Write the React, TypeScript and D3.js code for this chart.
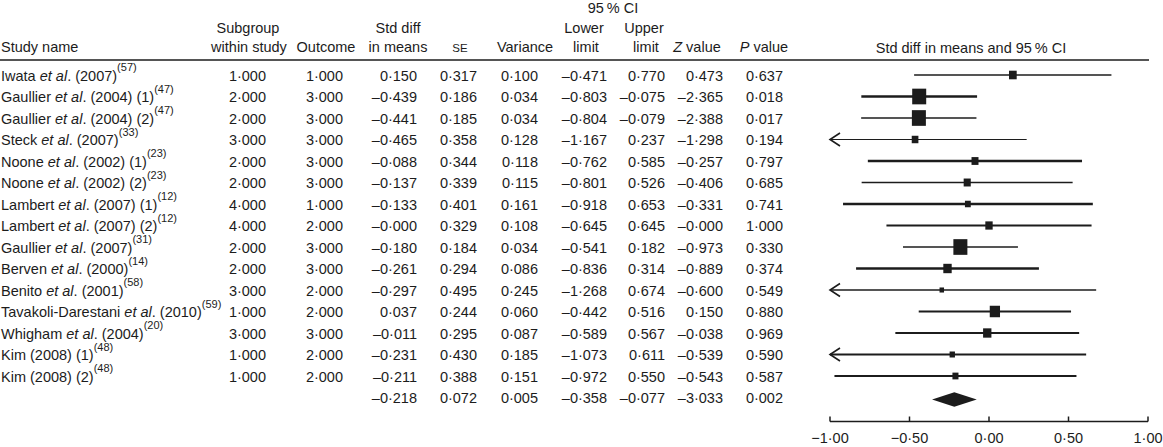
import React from "react";
import * as d3 from "d3";

// ---------- data ----------
const authors = ["Iwata", "Gaullier", "Gaullier", "Steck", "Noone", "Noone", "Lambert", "Lambert", "Gaullier", "Berven", "Benito", "Tavakoli-Darestani", "Whigham", "Kim", "Kim"];
const hasEtAl = [true, true, true, true, true, true, true, true, true, true, true, true, true, false, false];
const yearLabels = ["(2007)", "(2004) (1)", "(2004) (2)", "(2007)", "(2002) (1)", "(2002) (2)", "(2007) (1)", "(2007) (2)", "(2007)", "(2000)", "(2001)", "(2010)", "(2004)", "(2008) (1)", "(2008) (2)"];
const refs = ["57", "47", "47", "33", "23", "23", "12", "12", "31", "14", "58", "59", "20", "48", "48"];

const subgroup = [1, 2, 2, 3, 2, 2, 4, 4, 2, 2, 3, 1, 3, 1, 1];
const outcome = [1, 3, 3, 3, 3, 3, 1, 2, 3, 3, 2, 2, 3, 2, 2];
const stdDiff = [0.150, -0.439, -0.441, -0.465, -0.088, -0.137, -0.133, -0.000, -0.180, -0.261, -0.297, 0.037, -0.011, -0.231, -0.211];
const se = [0.317, 0.186, 0.185, 0.358, 0.344, 0.339, 0.401, 0.329, 0.184, 0.294, 0.495, 0.244, 0.295, 0.430, 0.388];
const variance = [0.100, 0.034, 0.034, 0.128, 0.118, 0.115, 0.161, 0.108, 0.034, 0.086, 0.245, 0.060, 0.087, 0.185, 0.151];
const lowerLimit = [-0.471, -0.803, -0.804, -1.167, -0.762, -0.801, -0.918, -0.645, -0.541, -0.836, -1.268, -0.442, -0.589, -1.073, -0.972];
const upperLimit = [0.770, -0.075, -0.079, 0.237, 0.585, 0.526, 0.653, 0.645, 0.182, 0.314, 0.674, 0.516, 0.567, 0.611, 0.550];
const zValue = [0.473, -2.365, -2.388, -1.298, -0.257, -0.406, -0.331, -0.000, -0.973, -0.889, -0.600, 0.150, -0.038, -0.539, -0.543];
const pValue = [0.637, 0.018, 0.017, 0.194, 0.797, 0.685, 0.741, 1.000, 0.330, 0.374, 0.549, 0.880, 0.969, 0.590, 0.587];

// pooled summary
const summaryStdDiff = -0.218;
const summarySe = 0.072;
const summaryVariance = 0.005;
const summaryLower = -0.358;
const summaryUpper = -0.077;
const summaryZ = -3.033;
const summaryP = 0.002;

const axisTicks = [-1, -0.5, 0, 0.5, 1];

// styling (line weights as drawn in the reference)
const ciStroke = [1.6, 2.5, 1.3, 1.2, 2.5, 1.3, 2.5, 2.2, 1.3, 2.5, 1.3, 2.2, 2.2, 1.8, 1.8];

// ---------- layout ----------
const W = 1163;
const H = 447;
const FONT = "'Liberation Sans', Arial, Helvetica, sans-serif";
const FS = 14.5;
const INK = "#1c1c1c";

const fmt = (v: number, digits = 3) => {
  const neg = v < 0 || Object.is(v, -0);
  const s = Math.abs(v).toFixed(digits).replace(".", "\u00B7");
  return neg ? "\u2013" + s : s;
};

const colRight = {
  subgroup: 266,
  outcome: 343,
  stdDiff: 417,
  se: 477,
  variance: 538,
  lower: 607,
  upper: 665,
  z: 723,
  p: 783,
};

export default function App() {
  const n = authors.length;
  const rowY = d3.scaleLinear().domain([0, 1]).range([75, 96.5]);
  const x = d3.scaleLinear().domain([-1, 1]).range([830, 1148]);
  const invSd = variance.map((v) => 1 / Math.sqrt(v));
  const sizeScale = d3
    .scaleLinear()
    .domain([d3.min(invSd) as number, d3.max(invSd) as number])
    .range([4.5, 14]);
  const axisY = 421.5;
  const summaryRow = n;

  const textProps = { fontFamily: FONT, fontSize: FS, fill: INK };

  const numCells = (vals: number[], y: number, key: string) => (
    <g key={key}>
      {vals.map((v, j) => (
        <text key={j} x={Object.values(colRight)[j + 2]} y={y} textAnchor="end" {...textProps}>
          {fmt(v)}
        </text>
      ))}
    </g>
  );

  return (
    <svg width={W} height={H} style={{ position: "absolute", left: 0, top: 0, background: "#fff" }}>
      {/* header */}
      <g {...textProps}>
        <text x={613} y={13} textAnchor="middle">95{"\u2009"}% CI</text>
        <text x={1} y={52}>Study name</text>
        <text x={248} y={33} textAnchor="middle">Subgroup</text>
        <text x={249} y={52} textAnchor="middle">within study</text>
        <text x={326} y={52} textAnchor="middle">Outcome</text>
        <text x={398} y={33} textAnchor="middle">Std diff</text>
        <text x={398} y={52} textAnchor="middle">in means</text>
        <text x={460} y={52} textAnchor="middle" fontSize={11.5}>SE</text>
        <text x={525} y={52} textAnchor="middle">Variance</text>
        <text x={584} y={33} textAnchor="middle">Lower</text>
        <text x={586} y={52} textAnchor="middle">limit</text>
        <text x={644} y={33} textAnchor="middle">Upper</text>
        <text x={646} y={52} textAnchor="middle">limit</text>
        <text x={697} y={52} textAnchor="middle">
          <tspan fontStyle="italic">Z</tspan> value
        </text>
        <text x={764} y={52} textAnchor="middle">
          <tspan fontStyle="italic">P</tspan> value
        </text>
        <text x={971} y={53} textAnchor="middle">Std diff in means and 95{"\u2009"}% CI</text>
      </g>
      <line x1={0} x2={1149} y1={60} y2={60} stroke={INK} strokeWidth={1.5} />

      {/* study rows */}
      {authors.map((a, i) => {
        const y = rowY(i);
        const ty = y + 5.5;
        return (
          <g key={i}>
            <text x={1} y={ty} {...textProps}>
              {a}
              {hasEtAl[i] ? (
                <>
                  {" "}
                  <tspan fontStyle="italic">et al</tspan>.
                </>
              ) : null}{" "}
              {yearLabels[i]}
              <tspan fontSize={11} dy={-9.5}>({refs[i]})</tspan>
            </text>
            <text x={colRight.subgroup} y={ty} textAnchor="end" {...textProps}>{fmt(subgroup[i])}</text>
            <text x={colRight.outcome} y={ty} textAnchor="end" {...textProps}>{fmt(outcome[i])}</text>
            {numCells([stdDiff[i], se[i], variance[i], lowerLimit[i], upperLimit[i], zValue[i], pValue[i]], ty, "n" + i)}
          </g>
        );
      })}

      {/* summary row text */}
      {numCells(
        [summaryStdDiff, summarySe, summaryVariance, summaryLower, summaryUpper, summaryZ, summaryP],
        rowY(summaryRow) + 5.5,
        "sum"
      )}

      {/* forest plot */}
      {authors.map((_, i) => {
        const y = rowY(i);
        const lo = Math.max(lowerLimit[i], -1);
        const clipped = lowerLimit[i] < -1;
        const s = sizeScale(invSd[i]);
        const h = s * 1.12;
        return (
          <g key={"f" + i}>
            <line x1={x(lo)} x2={x(Math.min(upperLimit[i], 1))} y1={y} y2={y} stroke={INK} strokeWidth={ciStroke[i]} />
            {clipped ? (
              <polyline
                points={`${x(-1) + 10},${y - 6.5} ${x(-1)},${y} ${x(-1) + 10},${y + 6.5}`}
                fill="none"
                stroke={INK}
                strokeWidth={1.6}
              />
            ) : null}
            <rect x={x(stdDiff[i]) - s / 2} y={y - h / 2} width={s} height={h} fill={INK} />
          </g>
        );
      })}

      {/* summary diamond */}
      {(() => {
        const y = rowY(summaryRow) + 2;
        const pts: [number, number][] = [
          [x(summaryLower), y],
          [x(summaryStdDiff), y - 7.3],
          [x(summaryUpper), y],
          [x(summaryStdDiff), y + 7.3],
        ];
        return <path d={(d3.line()(pts) as string) + "Z"} fill={INK} />;
      })()}

      {/* axis */}
      <line x1={x(-1)} x2={x(1)} y1={axisY} y2={axisY} stroke={INK} strokeWidth={1.5} />
      {axisTicks.map((t) => (
        <g key={t}>
          <line x1={x(t)} x2={x(t)} y1={axisY} y2={axisY - 5} stroke={INK} strokeWidth={1.5} />
          <text x={x(t)} y={443} textAnchor="middle" {...textProps}>
            {t < 0 ? "\u2212" + Math.abs(t).toFixed(2).replace(".", "\u00B7") : t.toFixed(2).replace(".", "\u00B7")}
          </text>
        </g>
      ))}
    </svg>
  );
}
